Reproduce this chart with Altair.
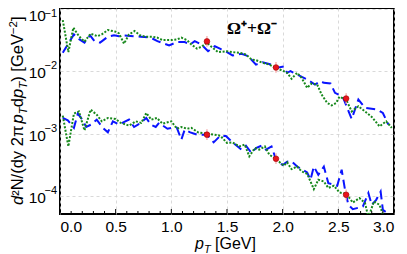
import altair as alt
import pandas as pd

# ---------------- data ----------------
x_up_green = [0.025,0.075,0.12,0.17,0.22,0.275,0.335,0.375,0.43,0.50,0.53,0.575,0.62,0.67,0.72,0.77,0.83,0.875,0.92,1.0,
              1.05,1.09,1.14,1.18,1.23,1.27,1.32,1.36,1.42,1.50,1.55,1.61,1.67,1.72,1.76,1.82,1.88,1.94,2.01,2.04,
              2.08,2.13,2.17,2.22,2.26,2.31,2.35,2.40,2.44,2.48,2.51,2.57,2.62,2.68,2.74,2.80,2.87,2.93,2.98]
y_up_green = [0.0672,0.0205,0.0507,0.0370,0.0302,0.0406,0.0370,0.0395,0.0464,0.0437,0.0410,0.0280,0.0395,0.0447,0.0381,0.0363,0.0363,0.0350,0.0320,0.0320,
              0.0328,0.0350,0.0320,0.0272,0.0233,0.0250,0.0291,0.0250,0.0205,0.0212,0.0205,0.0200,0.0188,0.0156,0.0152,0.0138,0.0129,0.0114,0.0101,0.00953,
              0.00763,0.00953,0.00792,0.00546,0.00641,0.00617,0.00425,0.00312,0.00285,0.00312,0.00391,0.00353,0.00228,0.00276,0.00228,0.00186,0.00131,0.00158,0.00124]

x_lo_green = [0.025,0.075,0.125,0.17,0.22,0.275,0.33,0.375,0.43,0.50,0.545,0.62,0.68,0.73,0.775,0.82,0.87,0.92,1.0,1.05,
              1.09,1.14,1.18,1.24,1.32,1.38,1.44,1.50,1.55,1.61,1.66,1.70,1.75,1.79,1.84,1.88,1.94,2.01,2.04,2.08,
              2.13,2.17,2.22,2.28,2.32,2.37,2.41,2.46,2.51,2.57,2.63,2.69,2.74,2.77,2.82,2.87,2.92]
y_lo_green = [0.00195,0.000624,0.00210,0.00228,0.00113,0.00243,0.00202,0.00158,0.00179,0.00172,0.00149,0.00135,0.00158,0.00149,0.00215,0.00168,0.00179,0.00145,0.00158,0.00120,
              0.00128,0.00120,0.00124,0.00105,0.00100,0.000964,0.000927,0.000708,0.000724,0.000624,0.000665,0.000431,0.000588,0.000553,0.000624,0.000459,0.000391,0.000305,0.000345,0.000269,
              0.000296,0.000247,0.000226,0.000128,0.000181,0.000170,0.000134,0.000145,0.000113,0.000108,0.0000780,0.0000919,0.0000763,0.000045,0.0000810,0.0000716,0.000040]

x_up_blue = [0.025,0.07,0.125,0.175,0.22,0.27,0.31,0.36,0.43,0.485,0.53,0.575,0.665,0.725,0.815,0.875,0.98,1.05,1.12,1.17,
             1.21,1.27,1.33,1.39,1.45,1.50,1.55,1.63,1.69,1.76,1.82,1.90,1.94,2.01,2.04,2.07,2.13,2.22,2.29,2.34,
             2.37,2.43,2.47,2.54,2.62,2.68,2.74,2.85,2.90,2.95]
y_up_blue = [0.0200,0.0272,0.0395,0.0328,0.0291,0.0381,0.0308,0.0291,0.0363,0.0381,0.0370,0.0381,0.0370,0.0363,0.0350,0.0308,0.0263,0.0297,0.0297,0.0272,
             0.0308,0.0272,0.0212,0.0256,0.0226,0.0205,0.0181,0.0193,0.0177,0.0129,0.0141,0.0129,0.0114,0.0120,0.00953,0.0101,0.00894,0.00743,0.00617,0.00698,
             0.00657,0.00641,0.00453,0.00391,0.00172,0.00353,0.00260,0.00243,0.00215,0.00140]

x_lo_blue = [0.025,0.07,0.125,0.16,0.2,0.235,0.28,0.33,0.385,0.43,0.475,0.53,0.62,0.665,0.725,0.775,0.815,0.86,0.89,0.965,
             1.0,1.05,1.09,1.12,1.17,1.23,1.32,1.38,1.44,1.49,1.55,1.63,1.67,1.72,1.76,1.81,1.85,1.90,1.94,2.0,
             2.04,2.08,2.13,2.22,2.25,2.28,2.32,2.37,2.41,2.49,2.53,2.56,2.59,2.63,2.72,2.77,2.80,2.84,2.88,2.90,2.94]
y_lo_blue = [0.00180,0.00164,0.00124,0.00210,0.00168,0.00128,0.00140,0.00168,0.00124,0.00105,0.00158,0.00140,0.00168,0.00128,0.00149,0.00179,0.00140,0.00128,0.00149,0.00120,
             0.00124,0.00124,0.000800,0.00116,0.00105,0.000964,0.000964,0.000724,0.000927,0.000915,0.000724,0.000553,0.000640,0.000488,0.000588,0.000640,0.000553,0.000624,0.000380,0.000312,
             0.000355,0.000358,0.000296,0.000238,0.000181,0.000296,0.000218,0.000296,0.000160,0.000145,0.000263,0.000125,0.0000716,0.0000610,0.0000672,0.000111,0.0000716,0.0000862,0.000117,0.0000595,0.0000527]

x_pts = [1.32, 1.94, 2.57, 1.32, 1.94, 2.57]
y_pts = [0.0305, 0.0116, 0.00367, 0.000964, 0.000395, 0.000104]

x_major = [0.0, 0.5, 1.0, 1.5, 2.0, 2.5, 3.0]
x_minor = [0.1,0.2,0.3,0.4,0.6,0.7,0.8,0.9,1.1,1.2,1.3,1.4,1.6,1.7,1.8,1.9,2.1,2.2,2.3,2.4,2.6,2.7,2.8,2.9]
y_decades = [1e-1, 1e-2, 1e-3, 1e-4]
y_exps = ["\u22121", "\u22122", "\u22123", "\u22124"]

W, H = 334, 206
SANS = "Liberation Sans"

xscale = alt.Scale(domain=[0, 3], nice=False, zero=False)
yscale = alt.Scale(type="log", domain=[5.1e-5, 0.105], nice=False)

def curve(xs, ys, grp):
    return pd.DataFrame({"pt": xs, "v": ys, "grp": grp})

blue = pd.concat([curve(x_up_blue, y_up_blue, "up"), curve(x_lo_blue, y_lo_blue, "lo")])
green = pd.concat([curve(x_up_green, y_up_green, "up"), curve(x_lo_green, y_lo_green, "lo")])
pts = pd.DataFrame({"pt": x_pts, "v": y_pts})
pts["lo"] = pts["v"] / 1.22
pts["hi"] = pts["v"] * 1.22

XAX = alt.Axis(values=x_major, format=".1f", title=None, grid=True, ticks=False,
               domain=False, labelFont=SANS, labelFontSize=15.5, labelColor="black",
               labelPadding=5, gridDash=[3, 3], gridColor="#cfcfcf", gridWidth=0.8)
YAX = alt.Axis(values=y_decades, labels=False, title=None, grid=True, ticks=False,
               domain=False, gridDash=[3, 3], gridColor="#cfcfcf", gridWidth=0.8)

def X(f="pt"):
    return alt.X(f + ":Q", scale=xscale, axis=XAX)

def Y(f="v"):
    return alt.Y(f + ":Q", scale=yscale, axis=YAX)

blue_layer = alt.Chart(blue).mark_line(color="#0a14ff", strokeWidth=2, strokeDash=[9, 5], clip=True).encode(
    x=X(), y=Y(), detail="grp:N")
green_layer = alt.Chart(green).mark_line(color="#17881c", strokeWidth=2, strokeDash=[2, 1.6], clip=True).encode(
    x=X(), y=Y(), detail="grp:N")
err_layer = alt.Chart(pts).mark_rule(color="#f5a3a3", strokeWidth=1.2).encode(
    x=X(), y=Y("lo"), y2="hi:Q")
pt_layer = alt.Chart(pts).mark_point(filled=True, color="#e8141c", size=32, opacity=1,
                                     stroke="#a00000", strokeWidth=0.6).encode(x=X(), y=Y())

minor_ticks = alt.Chart(pd.DataFrame({"pt": x_minor})).mark_rule(color="black", strokeWidth=1).encode(
    x=X(), y=alt.value(H), y2=alt.value(H - 3))
major_ticks = alt.Chart(pd.DataFrame({"pt": x_major})).mark_rule(color="black", strokeWidth=1).encode(
    x=X(), y=alt.value(H), y2=alt.value(H - 5))

# y tick labels 10^n (the top one is pushed down inside the figure)
ylab_top = pd.DataFrame({"v": y_decades[:1], "e": y_exps[:1]})
ylab_rest = pd.DataFrame({"v": y_decades[1:], "e": y_exps[1:]})

def ylabels(df, shift_base, shift_exp):
    base = alt.Chart(df).mark_text(text="10", font=SANS, fontSize=15.5, align="right",
                                   baseline="middle", dy=2 + shift_base, color="black").encode(
        x=alt.value(-14), y=Y())
    exp = alt.Chart(df).mark_text(font=SANS, fontSize=11, align="right",
                                  baseline="middle", dy=-5 + shift_exp, color="black").encode(
        x=alt.value(-3), y=Y(), text="e:N")
    return [base, exp]

ylab_layers = ylabels(ylab_top, 5, 10) + ylabels(ylab_rest, 0, 0)

def piece(text, x, y, size=16, style="normal", angle=0, font=SANS, weight="normal"):
    return alt.Chart(pd.DataFrame({"a": [0]})).mark_text(
        font=font, fontSize=size, fontStyle=style, fontWeight=weight, angle=angle,
        align="left", baseline="alphabetic", color="black").encode(
        x=alt.value(x), y=alt.value(y), text=alt.value(text))

# x title: p_T [GeV]
xt = []
bx, by = 135, 241
xt.append(piece("p", bx, by, 16, "italic"))
xt.append(piece("T", bx + 8.9, by + 3.5, 11, "italic"))
xt.append(piece("[GeV]", bx + 20.0, by, 16))

# y title (rotated): d²N/(dy 2π p_T dp_T) [GeV^-2]
yt = []
yx, yy = -37, 197
segs = [("d", 16.5, "italic", 0, 9.2), ("\u00b2N/(dy 2\u03c0", 16.5, "normal", 0, 72.4),
        ("p", 16.5, "italic", 0, 9.2), ("T", 11.5, "italic", 3.5, 7.0),
        ("d", 16.5, "normal", 0, 9.2), ("p", 16.5, "italic", 0, 9.2), ("T", 11.5, "italic", 3.5, 7.0),
        (")", 16.5, "normal", 0, 10.1), ("[GeV", 16.5, "normal", 0, 37.5),
        ("\u22122", 11.5, "normal", -6, 13.1), ("]", 16.5, "normal", 0, 4.6)]
off = 0
for t, s, st, shift, w in segs:
    yt.append(piece(t, yx + shift, yy - off, s, st, angle=270))
    off += w

omega = alt.Chart(pd.DataFrame({"pt": [1.5], "v": [0.040]})).mark_text(
    text="\u03a9\u207a+\u03a9\u207b", font="Liberation Serif", fontSize=17.5, fontWeight="bold",
    align="left", baseline="alphabetic", color="black").encode(x=X(), y=Y())

chart = alt.layer(blue_layer, green_layer, err_layer, pt_layer, minor_ticks, major_ticks,
                  *ylab_layers, omega, *xt, *yt).properties(
    width=W, height=H,
    autosize=alt.AutoSizeParams(type="none"),
    padding={"left": 52, "top": 0, "right": 5, "bottom": 40},
).configure_view(stroke="black", strokeWidth=2)

chart.save("out.html", embed_options={"renderer": "svg", "actions": False})
